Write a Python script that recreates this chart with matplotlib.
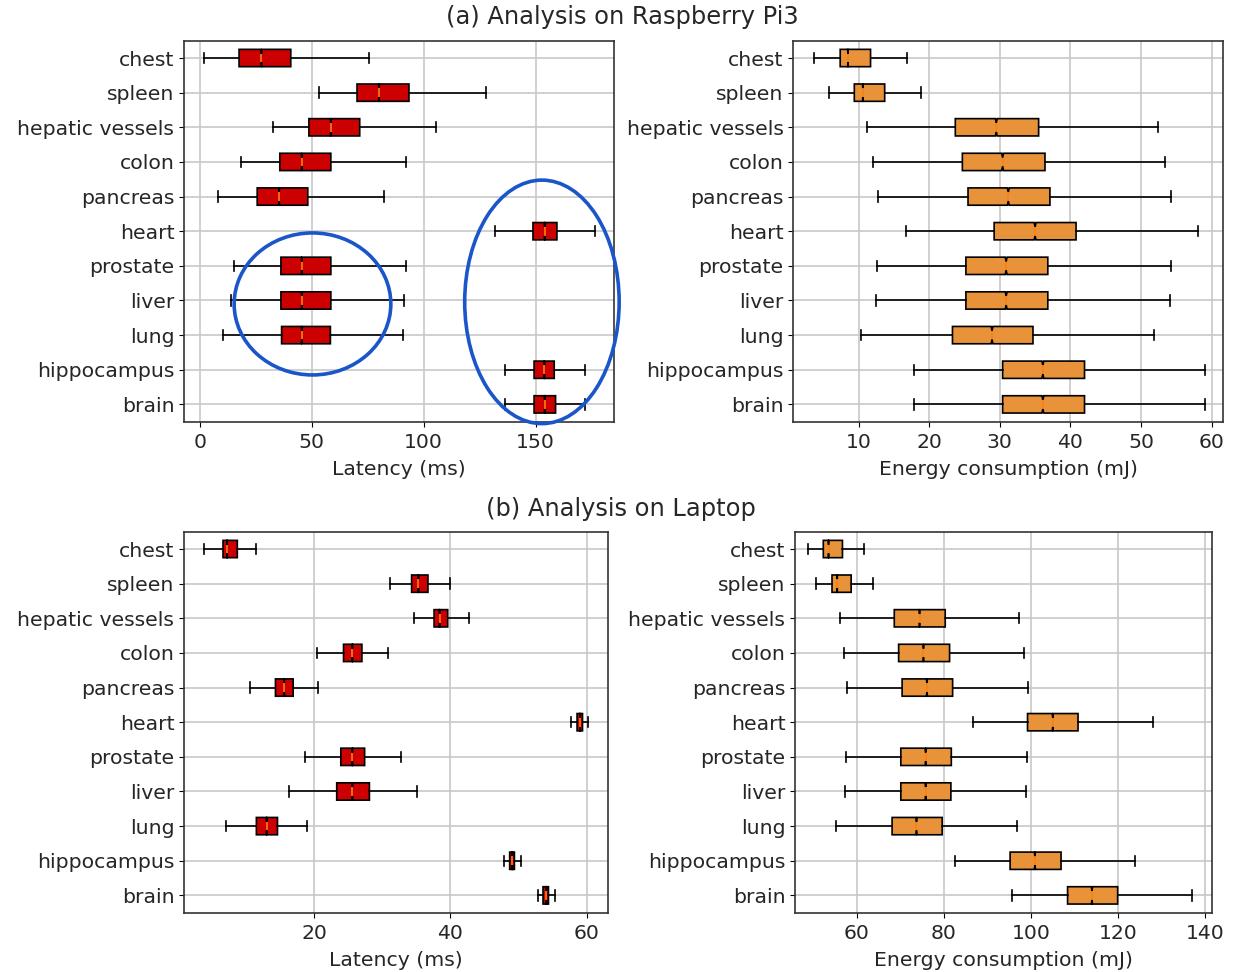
import numpy as np
import matplotlib
matplotlib.use("Agg")
import matplotlib.pyplot as plt
from matplotlib.patches import Ellipse

categories = ["chest", "spleen", "hepatic vessels", "colon", "pancreas", "heart",
              "prostate", "liver", "lung", "hippocampus", "brain"]

# (a) Raspberry Pi3 - latency (ms)
pi_lat_whislo = [1.8, 53.0, 32.7, 18.3, 8.2, 131.8, 15.3, 13.7, 10.4, 136.2, 136.2]
pi_lat_q1     = [17.5, 70.2, 48.7, 35.7, 25.6, 148.8, 36.2, 36.2, 36.5, 149.3, 149.3]
pi_lat_med    = [27.5, 80.0, 58.5, 45.5, 35.4, 154.0, 45.5, 45.5, 45.5, 153.9, 154.0]
pi_lat_q3     = [40.6, 93.4, 71.4, 58.5, 48.2, 159.5, 58.5, 58.5, 58.3, 158.3, 158.9]
pi_lat_whishi = [75.6, 128.0, 105.4, 92.3, 82.3, 176.3, 92.1, 91.2, 90.6, 171.9, 172.0]

# (a) Raspberry Pi3 - energy (mJ)
pi_en_whislo = [3.7, 5.8, 11.2, 12.1, 12.8, 16.7, 12.6, 12.5, 10.4, 17.8, 17.8]
pi_en_q1     = [7.4, 9.4, 23.7, 24.7, 25.5, 29.2, 25.2, 25.2, 23.3, 30.4, 30.4]
pi_en_med    = [8.5, 10.6, 29.5, 30.4, 31.2, 35.0, 30.9, 30.9, 28.9, 36.1, 36.1]
pi_en_q3     = [11.7, 13.7, 35.5, 36.4, 37.1, 40.8, 36.8, 36.8, 34.7, 42.0, 42.0]
pi_en_whishi = [16.8, 18.8, 52.4, 53.4, 54.2, 58.0, 54.2, 54.1, 51.9, 59.0, 59.0]

# (b) Laptop - latency (ms)
lap_lat_whislo = [3.8, 31.1, 34.7, 20.4, 10.5, 57.7, 18.6, 16.3, 7.0, 47.9, 52.8]
lap_lat_q1     = [6.6, 34.3, 37.6, 24.3, 14.3, 58.6, 23.9, 23.3, 11.5, 48.7, 53.6]
lap_lat_med    = [7.2, 35.3, 38.4, 25.6, 15.6, 59.0, 25.6, 25.6, 13.0, 49.1, 54.1]
lap_lat_q3     = [8.7, 36.7, 39.6, 27.0, 16.9, 59.4, 27.4, 28.1, 14.6, 49.4, 54.4]
lap_lat_whishi = [11.4, 39.9, 42.7, 30.8, 20.6, 60.2, 32.8, 35.1, 19.0, 50.3, 55.3]

# (b) Laptop - energy (mJ)
lap_en_whislo = [48.7, 50.7, 56.2, 57.1, 57.8, 86.6, 57.4, 57.2, 55.2, 82.6, 95.7]
lap_en_q1     = [52.3, 54.3, 68.6, 69.6, 70.4, 99.2, 70.1, 70.1, 68.1, 95.2, 108.4]
lap_en_med    = [53.5, 55.5, 74.4, 75.3, 76.1, 105.0, 75.8, 75.8, 73.7, 100.9, 114.0]
lap_en_q3     = [56.7, 58.7, 80.3, 81.3, 82.0, 110.8, 81.7, 81.6, 79.6, 106.9, 119.9]
lap_en_whishi = [61.7, 63.7, 97.3, 98.3, 99.3, 128.0, 99.0, 98.9, 96.7, 123.8, 137.0]

N_SAMPLES = 20000  # assumed sample count for notch width

RED = "#cc0000"
ORANGE = "#e8923a"
MED = "#ff7f0e"
BLUE = "#1a55c9"


def make_stats(lo, q1, med, q3, hi):
    stats = []
    for a, b, c, d, e in zip(lo, q1, med, q3, hi):
        ci = 1.57 * (d - b) / np.sqrt(N_SAMPLES)
        stats.append(dict(whislo=a, q1=b, med=c, q3=d, whishi=e,
                          cilo=c - ci, cihi=c + ci, fliers=[]))
    return stats


fig = plt.figure(figsize=(12.45, 9.72), dpi=100)
W, H = 1245, 972


def add_ax(l, r, t, b):
    return fig.add_axes([l / W, 1 - b / H, (r - l) / W, (b - t) / H])


axes_px = [
    (184, 614, 40.7, 421.7),
    (793.3, 1223.3, 40.7, 421.7),
    (184, 607.7, 531.7, 912.7),
    (795, 1211.7, 531.7, 912.7),
]

panels = [
    (make_stats(pi_lat_whislo, pi_lat_q1, pi_lat_med, pi_lat_q3, pi_lat_whishi), RED,
     "Latency (ms)", (-7.1, 185.0), [0, 50, 100, 150]),
    (make_stats(pi_en_whislo, pi_en_q1, pi_en_med, pi_en_q3, pi_en_whishi), ORANGE,
     "Energy consumption (mJ)", (0.76, 61.65), [10, 20, 30, 40, 50, 60]),
    (make_stats(lap_lat_whislo, lap_lat_q1, lap_lat_med, lap_lat_q3, lap_lat_whishi), RED,
     "Latency (ms)", (0.87, 63.1), [20, 40, 60]),
    (make_stats(lap_en_whislo, lap_en_q1, lap_en_med, lap_en_q3, lap_en_whishi), ORANGE,
     "Energy consumption (mJ)", (45.8, 141.5), [60, 80, 100, 120, 140]),
]

FS = 14.7
TXT = "#262626"
axs = []
positions = np.arange(1, len(categories) + 1)
for (l, r, t, b), (stats, color, xlabel, xlim, xticks) in zip(axes_px, panels):
    ax = add_ax(l, r, t, b)
    ax.bxp(stats, positions=positions, orientation="horizontal", shownotches=True,
           patch_artist=True, widths=0.5, capwidths=0.3,
           boxprops=dict(facecolor=color, edgecolor="black", linewidth=1.2),
           medianprops=dict(color=MED, linewidth=1.2),
           whiskerprops=dict(color="black", linewidth=1.2),
           capprops=dict(color="black", linewidth=1.2))
    ax.set_ylim(len(categories) + 0.5, 0.5)
    ax.set_yticks(positions)
    ax.set_yticklabels(categories, fontsize=FS, color=TXT)
    ax.set_xlim(*xlim)
    ax.set_xticks(xticks)
    ax.tick_params(axis="x", labelsize=FS, labelcolor=TXT, pad=4.5)
    ax.set_xlabel(xlabel, fontsize=FS, color=TXT, labelpad=6)
    ax.grid(True, color="#c8c8c8", linewidth=1.2)
    ax.set_axisbelow(True)
    for s in ax.spines.values():
        s.set_color("#333333")
        s.set_linewidth(1.2)
    axs.append(ax)

# blue highlight ellipses on the Raspberry Pi latency panel
ax0 = axs[0]
ell1 = Ellipse((50.3, 8.1), width=70.0, height=4.1, fill=False,
               edgecolor=BLUE, linewidth=2.6, clip_on=False, zorder=5)
ell2 = Ellipse((152.8, 8.04), width=69.0, height=7.03, fill=False,
               edgecolor=BLUE, linewidth=2.6, clip_on=False, zorder=5)
ax0.add_patch(ell1)
ax0.add_patch(ell2)

fig.text(0.5, 1 - 17 / H, "(a) Analysis on Raspberry Pi3", ha="center", va="center",
         fontsize=17.4, color=TXT)
fig.text(0.499, 1 - 509 / H, "(b) Analysis on Laptop", ha="center", va="center",
         fontsize=17.4, color=TXT)

fig.savefig("out.png", dpi=100)
